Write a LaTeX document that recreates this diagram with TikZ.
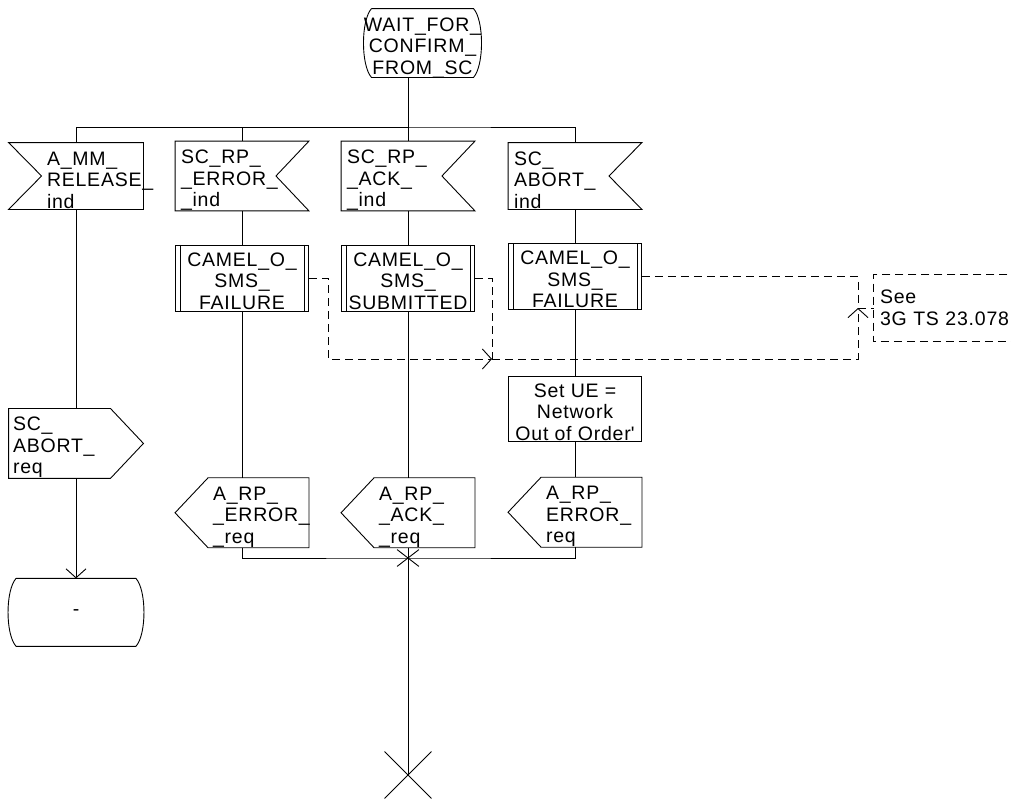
\documentclass[tikz,border=0pt]{standalone}
\usepackage{fontspec}
\setmainfont{Liberation Sans}[LetterSpace=4]
\usepackage{tikz}
\usetikzlibrary{arrows.meta,shapes.misc,positioning}
\hyphenpenalty=10000
\exhyphenpenalty=10000

\begin{document}
\begin{tikzpicture}[x=1pt, y=-1pt, line width=0.9pt,
    txt/.style={inner sep=0pt, font=\fontsize{19.5}{21.5}\selectfont},
    sdlbox/.style={txt, minimum width=133pt, minimum height=66pt},
    lefttext/.style={align=left, text height=22pt},
    midtext/.style={align=center, text height=62pt, text depth=0pt},
    inleft/.style={sdlbox, lefttext, text width=58pt, append after command={\pgfextra{
        \draw (\tikzlastnode.north west) -- (\tikzlastnode.north east) -- (\tikzlastnode.south east)
          -- (\tikzlastnode.south west) -- ([xshift=33pt]\tikzlastnode.west) -- cycle;}}},
    inright/.style={sdlbox, lefttext, text width=122pt, append after command={\pgfextra{
        \draw (\tikzlastnode.north west) -- (\tikzlastnode.north east) -- ([xshift=-33pt]\tikzlastnode.east)
          -- (\tikzlastnode.south east) -- (\tikzlastnode.south west) -- cycle;}}},
    outleft/.style={sdlbox, lefttext, text width=58pt, append after command={\pgfextra{
        \draw (\tikzlastnode.west) -- ([xshift=33pt]\tikzlastnode.north west) -- (\tikzlastnode.north east)
          -- (\tikzlastnode.south east) -- ([xshift=33pt]\tikzlastnode.south west) -- cycle;}}},
    outright/.style={sdlbox, lefttext, text width=126pt, append after command={\pgfextra{
        \draw (\tikzlastnode.north west) -- ([xshift=-33pt]\tikzlastnode.north east) -- (\tikzlastnode.east)
          -- ([xshift=-33pt]\tikzlastnode.south east) -- (\tikzlastnode.south west) -- cycle;}}},
    proc/.style={sdlbox, draw, midtext, append after command={\pgfextra{
        \draw ([xshift=5pt]\tikzlastnode.north west) -- ([xshift=5pt]\tikzlastnode.south west)
              ([xshift=-5pt]\tikzlastnode.north east) -- ([xshift=-5pt]\tikzlastnode.south east);}}},
    taskbox/.style={sdlbox, draw, midtext},
    sdlstate/.style={txt, align=center, append after command={\pgfextra{
        \draw ([xshift=8pt]\tikzlastnode.north west) -- ([xshift=-8pt]\tikzlastnode.north east)
          .. controls ([xshift=2.7pt,yshift=-12pt]\tikzlastnode.north east) and ([xshift=2.7pt,yshift=12pt]\tikzlastnode.south east) .. ([xshift=-8pt]\tikzlastnode.south east)
          -- ([xshift=8pt]\tikzlastnode.south west)
          .. controls ([xshift=-2.7pt,yshift=12pt]\tikzlastnode.south west) and ([xshift=-2.7pt,yshift=-12pt]\tikzlastnode.north west) .. ([xshift=8pt]\tikzlastnode.north west);}}},
    note/.style={txt, minimum width=146pt, minimum height=66pt, text width=134pt, align=left},
    cmt/.style={dash pattern=on 8pt off 5pt},
    flow/.style={-{Straight Barb[length=9pt, width=20pt]}},
    joinx/.style={cross out, draw, minimum width=21pt, minimum height=16pt, inner sep=0pt},
    stopx/.style={cross out, draw, minimum size=46pt, inner sep=0pt}
  ]
  \useasboundingbox (0,0) rectangle (1011,798);

  \node[sdlstate, midtext, minimum width=109pt, minimum height=68pt] (wait) at (422.5,43) {WAIT\_FOR\_\\CONFIRM\_\\FROM\_SC};

  \node[inleft, minimum width=134pt] (relind) at (76,176) {A\_MM\_\\RELEASE\_\\ind};
  \node[inright] (errind) at (242,176) {SC\_RP\_\\\_ERROR\_\\\_ind};
  \node[inright] (ackind) at (408,176) {SC\_RP\_\\\_ACK\_\\\_ind};
  \node[inright] (abortind) at (575,176) {SC\_\\ABORT\_\\ind};

  \node[proc, below=34pt of errind] (fail1) {CAMEL\_O\_\\SMS\_\\FAILURE};
  \node[proc, below=34pt of ackind] (submit) {CAMEL\_O\_\\SMS\_\\SUBMITTED};
  \node[proc, below=34pt of abortind] (fail2) {CAMEL\_O\_\\SMS\_\\FAILURE};
  \node[taskbox, minimum height=65pt, below=66pt of fail2] (setue) {Set UE =\\Network\\Out of Order\textquotesingle};

  \node[outleft, below=166pt of fail1] (errreq) {A\_RP\_\\\_ERROR\_\\\_req};
  \node[outleft, below=166pt of submit] (ackreq) {A\_RP\_\\\_ACK\_\\\_req};
  \node[outleft, below=35pt of setue] (abreq) {A\_RP\_\\ERROR\_\\req};

  \node[outright, minimum width=134pt, below=199pt of relind] (abortreq) {SC\_\\ABORT\_\\req};
  \node[sdlstate, minimum width=135pt, minimum height=67pt, below=100pt of abortreq] (dash) {-};

  \node[note] (see) at (947,308) {See\\3G TS 23.078};
  \node[joinx] (join) at (408,558) {};
  \node[stopx] (stop) at (408,775) {};

  \coordinate (bus) at (408,127);
  \coordinate (m1) at (492,359);
  \coordinate (m2) at (858,308);

  \draw (wait.south -| bus) -- (ackind.north);
  \draw (relind.north) |- (bus) -| (abortind.north);
  \draw (bus) -| (errind.north);

  \draw (relind) -- (abortreq);
  \draw[flow] (abortreq) -- (dash);

  \draw (errind) -- (fail1);
  \draw (fail1) -- (errreq);
  \draw (ackind) -- (submit);
  \draw (submit) -- (ackreq);
  \draw (abortind) -- (fail2);
  \draw (fail2) -- (setue);
  \draw (setue) -- (abreq);

  \draw (errreq.south) |- (join.center) -| (abreq.south);
  \draw (ackreq.south) -- (stop.center);

  \draw[cmt, flow] (fail1.east) -- ++(19,0) |- (m1);
  \draw[cmt] (submit.east) -| (m1);
  \draw[cmt, flow] (m1) -| (m2);
  \draw[cmt] (fail2.east) -| (m2);
  \draw[cmt] (m2) -- (see.west);
  \draw[cmt] (see.north east) -- (see.north west) -- (see.south west) -- (see.south east);
\end{tikzpicture}
\end{document}
